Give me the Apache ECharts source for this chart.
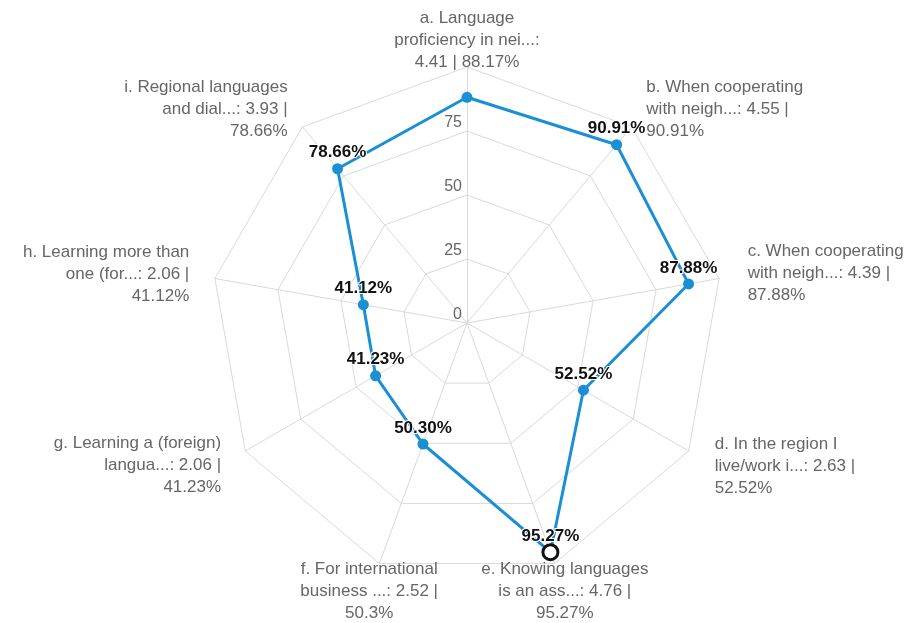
<!DOCTYPE html>
<html>
<head>
<meta charset="utf-8">
<script src="https://cdn.jsdelivr.net/npm/echarts@6/dist/echarts.min.js"></script>
<style>
  html, body { margin: 0; padding: 0; background: #fff; }
  #chart { width: 915px; height: 623px; }
</style>
</head>
<body>
<div id="chart"></div>
<script>
// Survey statements (a–i), mean score and share of agreement
const categories = [
  'a. Language\nproficiency in nei...',
  'b. When cooperating\nwith neigh...',
  'c. When cooperating\nwith neigh...',
  'd. In the region I\nlive/work i...',
  'e. Knowing languages\nis an ass...',
  'f. For international\nbusiness ...',
  'g. Learning a (foreign)\nlangua...',
  'h. Learning more than\none (for...',
  'i. Regional languages\nand dial...'
];
const scores = [4.41, 4.55, 4.39, 2.63, 4.76, 2.52, 2.06, 2.06, 3.93];
const percentages = [88.17, 90.91, 87.88, 52.52, 95.27, 50.30, 41.23, 41.12, 78.66];
const tickValues = [0, 25, 50, 75, 100];
const highlightedIndex = 4;   // statement e
const unlabelledIndex = 0;    // statement a: its value already sits in the axis name

const FONT = '"Liberation Sans", Arial, Helvetica, sans-serif';
const BLUE = '#1a8fd3';
const GRID = '#dadada';
const CENTER = [467, 323];
const RADIUS = 256;

// Name placement per statement (a..i)
const nameLayout = [
  { gap: -6, align: 'center', vAlign: 'bottom', scoreBreak: true },
  { gap: 23 },
  { gap: 29 },
  { gap: 30, padTop: 6 },
  { gap: 30, align: 'center', vAlign: 'middle', padTop: 3 },
  { gap: 30, align: 'center', vAlign: 'middle', padTop: 3 },
  { gap: 28, padTop: 7 },
  { gap: 26 },
  { gap: 23 }
];

function nameText(i) {
  const pct = String(percentages[i]) + '%';
  if (nameLayout[i].scoreBreak) {
    return categories[i] + ':\n' + scores[i] + ' | ' + pct;
  }
  return categories[i] + ': ' + scores[i] + ' |\n' + pct;
}

// Radar runs counter-clockwise, so list statements a, i, h, ... b to read clockwise
const order = [0];
for (let i = categories.length - 1; i >= 1; i--) order.push(i);

const indicator = order.map(function (i) {
  const L = nameLayout[i];
  const ind = {
    name: nameText(i),
    min: tickValues[0],
    max: tickValues[tickValues.length - 1],
    nameGap: L.gap,
    nameTextStyle: {}
  };
  if (L.align) ind.nameTextStyle.align = L.align;
  if (L.vAlign) ind.nameTextStyle.verticalAlign = L.vAlign;
  if (L.padTop) ind.nameTextStyle.padding = [L.padTop, 0, 0, 0];
  if (i === 0) ind.axisLabel = { show: true };
  return ind;
});

const chart = echarts.init(document.getElementById('chart'), null, { renderer: 'canvas' });

chart.setOption({
  animation: false,
  backgroundColor: '#fff',
  radar: {
    center: CENTER,
    radius: RADIUS,
    startAngle: 90,
    shape: 'polygon',
    splitNumber: tickValues.length - 1,
    indicator: indicator,
    axisName: {
      color: '#666',
      fontSize: 17,
      lineHeight: 22,
      fontFamily: FONT
    },
    axisLine: { lineStyle: { color: GRID, width: 1 } },
    splitLine: { lineStyle: { color: GRID, width: 1 } },
    splitArea: { show: false },
    axisTick: { show: false },
    axisLabel: {
      show: false,
      showMaxLabel: false,
      color: '#666',
      fontSize: 16,
      fontFamily: FONT,
      margin: 5,
      verticalAlign: 'bottom'
    }
  },
  polar: { center: CENTER, radius: RADIUS },
  angleAxis: { type: 'value', min: 0, max: 360, startAngle: 90, clockwise: true, show: false },
  radiusAxis: { type: 'value', min: tickValues[0], max: tickValues[tickValues.length - 1], show: false },
  series: [
    {
      type: 'radar',
      symbol: 'circle',
      symbolSize: 11,
      lineStyle: { color: BLUE, width: 3 },
      itemStyle: { color: BLUE },
      label: {
        show: true,
        position: 'top',
        distance: 2,
        color: '#111',
        fontWeight: 'bold',
        fontSize: 17,
        fontFamily: FONT,
        textBorderColor: '#fff',
        textBorderWidth: 2,
        formatter: function (p) {
          const dim = p.dimensionIndex;
          if (dim === 0 || (dim == null && p.value === percentages[unlabelledIndex])) return '';
          return Number(p.value).toFixed(2) + '%';
        }
      },
      data: [{ value: order.map(function (i) { return percentages[i]; }) }]
    },
    {
      // hovered point marker on statement e
      type: 'scatter',
      coordinateSystem: 'polar',
      symbol: 'circle',
      symbolSize: 15,
      itemStyle: { color: '#fff', borderColor: '#111', borderWidth: 3, opacity: 1 },
      z: 10,
      silent: true,
      data: [[percentages[highlightedIndex], highlightedIndex * 360 / categories.length]]
    }
  ]
});
</script>
</body>
</html>
